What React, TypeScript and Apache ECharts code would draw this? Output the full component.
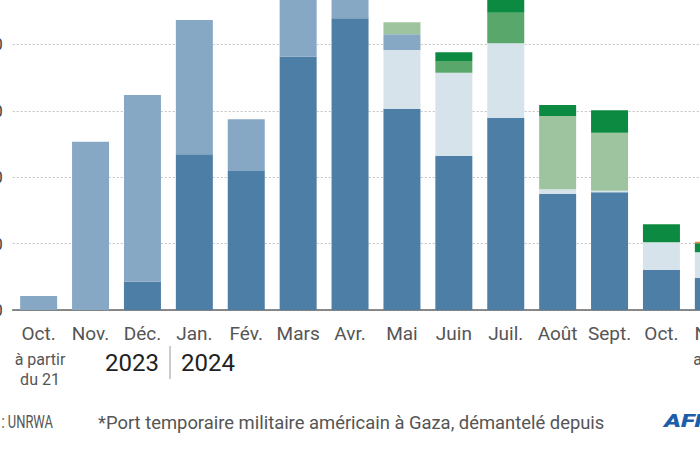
import React, { useEffect, useRef } from "react";
import * as echarts from "echarts";

const categories = ["Oct.", "Nov.", "Déc.", "Jan.", "Fév.", "Mars", "Avr.", "Mai", "Juin", "Juil.", "Août", "Sept.", "Oct.", "Nov."];

// stacked segments, bottom to top
const keremShalom = [0, 0, 426, 2345, 2093, 3815, 4393, 3032, 2319, 2896, 1747, 1772, 602, 486];
const autresPoints = [0, 0, 0, 0, 0, 0, 0, 884, 1255, 1120, 70, 25, 417, 383];
const rafah = [211, 2535, 2812, 2022, 779, 1385, 607, 236, 0, 0, 0, 0, 0, 0];
const portTemporaire = [0, 0, 0, 0, 0, 0, 0, 181, 0, 0, 1105, 873, 0, 0];
const zikim = [0, 0, 0, 0, 0, 0, 0, 0, 176, 461, 0, 0, 0, 0];
const erez = [0, 0, 0, 0, 0, 0, 0, 0, 131, 213, 165, 337, 271, 135];
const autres = [0, 0, 0, 0, 0, 0, 0, 0, 0, 0, 0, 0, 0, 25];

const seriesDefs = [
  { name: "Kerem Shalom", data: keremShalom, color: "#4d7ea6" },
  { name: "Autres points", data: autresPoints, color: "#d7e3eb" },
  { name: "Rafah", data: rafah, color: "#87a8c5" },
  { name: "Port temporaire*", data: portTemporaire, color: "#9dc49e" },
  { name: "Zikim", data: zikim, color: "#5aa76c" },
  { name: "Erez", data: erez, color: "#0c8a41" },
  { name: "Autres", data: autres, color: "#e5893a" },
];

const FONT = "Roboto, 'Noto Sans', sans-serif";

export default function App() {
  const ref = useRef<HTMLDivElement>(null);
  useEffect(() => {
    if (!ref.current) return;
    const chart = echarts.init(ref.current, undefined, { renderer: "svg" });
    chart.setOption({
      animation: false,
      backgroundColor: "#ffffff",
      grid: { left: 72.7, width: 726.6, bottom: 140, top: 11.6 },
      xAxis: {
        type: "category",
        data: categories,
        axisTick: { show: false },
        axisLine: { lineStyle: { color: "#666", width: 1.5 } },
        axisLabel: { color: "#555", fontSize: 19, fontFamily: FONT, margin: 14, interval: 0 },
      },
      yAxis: {
        type: "value",
        min: 0,
        max: 6000,
        interval: 1000,
        axisLabel: {
          color: "#444",
          fontSize: 17,
          fontFamily: FONT,
          margin: 10,
          formatter: (v: number) => (v === 0 ? "0" : `${v / 1000} 000`),
        },
        splitLine: { lineStyle: { color: "#c4c4c4", type: [2, 2], width: 1 } },
      },
      series: seriesDefs.map((s) => ({
        type: "bar",
        name: s.name,
        stack: "total",
        barWidth: 37,
        data: s.data.map((v) => (v === 0 ? null : v)),
        itemStyle: { color: s.color },
      })),
      graphic: [
        { type: "text", x: 100, y: 449, style: { text: "à partir\ndu 21", fill: "#555", fontSize: 16, fontFamily: FONT, align: "center", verticalAlign: "top", lineHeight: 20 } },
        { type: "text", x: 219, y: 463, style: { text: "2023", fill: "#222", fontSize: 24, fontFamily: FONT, align: "right", verticalAlign: "middle" } },
        { type: "line", shape: { x1: 230, y1: 446, x2: 230, y2: 479 }, style: { stroke: "#999", lineWidth: 1 } },
        { type: "text", x: 241, y: 463, style: { text: "2024", fill: "#222", fontSize: 24, fontFamily: FONT, align: "left", verticalAlign: "middle" } },
        { type: "text", x: 773, y: 449, style: { text: "au 15", fill: "#555", fontSize: 16, fontFamily: FONT, align: "center", verticalAlign: "top", lineHeight: 20 } },
        { type: "text", x: 113, y: 522, scaleX: 0.74, style: { text: "Source : UNRWA", fill: "#555", fontSize: 17.5, fontFamily: FONT, align: "right", verticalAlign: "middle" } },
        { type: "text", x: 158, y: 522, style: { text: "*Port temporaire militaire américain à Gaza, démantelé depuis", fill: "#555", fontSize: 18.4, fontFamily: FONT, align: "left", verticalAlign: "middle" } },
        { type: "text", x: 724, y: 521, scaleX: 1.35, style: { text: "AFP", fill: "#1b5faa", fontSize: 19, fontWeight: 900, fontStyle: "italic", fontFamily: FONT, align: "left", verticalAlign: "middle" } },
      ],
    });
    return () => chart.dispose();
  }, []);
  return (
    <div style={{ position: "fixed", left: 0, top: 0, width: 700, height: 450, overflow: "hidden", background: "#fff" }}>
      <div ref={ref} style={{ position: "absolute", left: -60, top: -100, width: 860, height: 550 }} />
    </div>
  );
}
